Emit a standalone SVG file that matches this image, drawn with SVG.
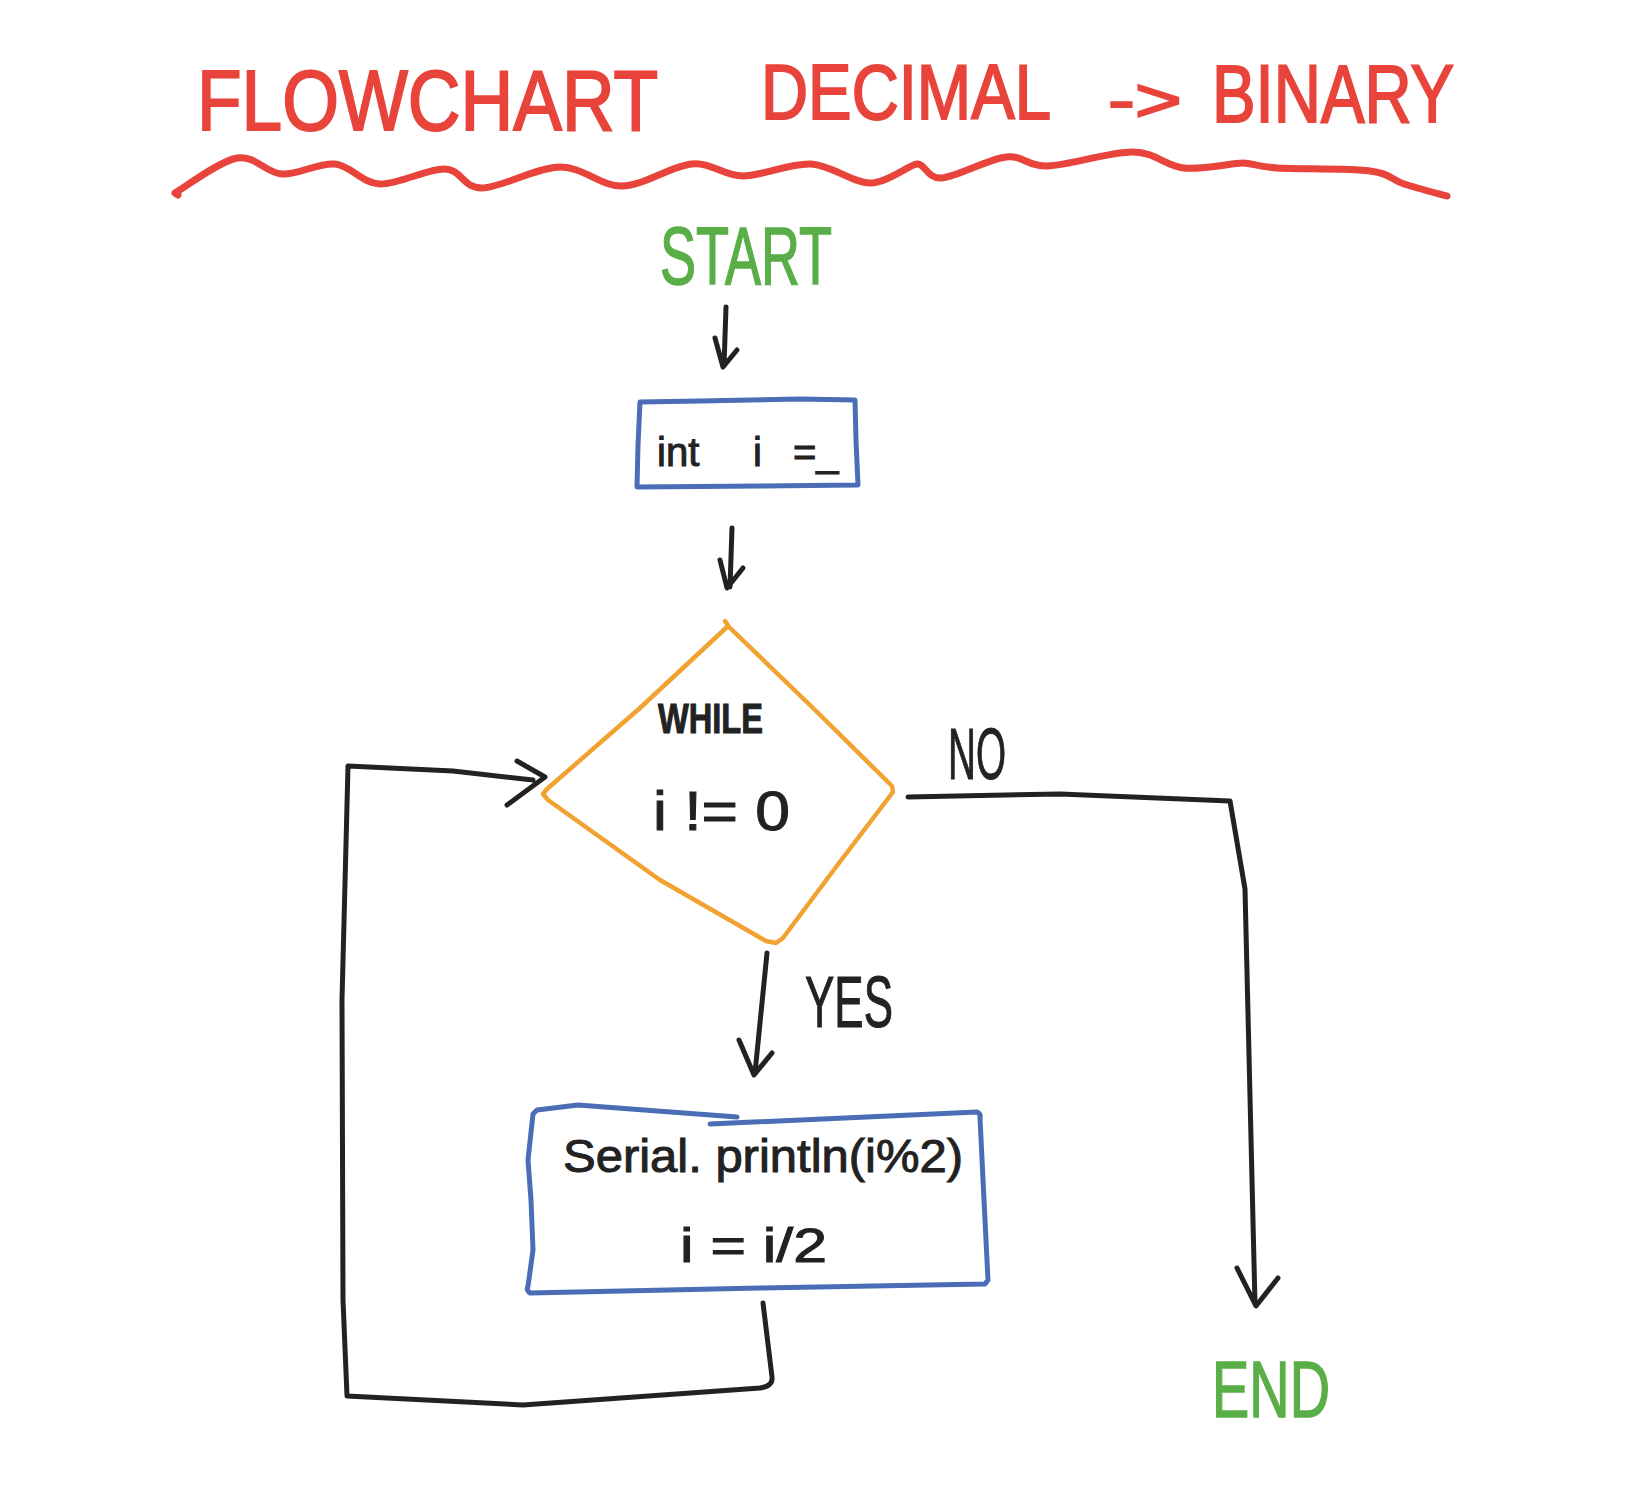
<svg xmlns="http://www.w3.org/2000/svg" width="1652" height="1498" viewBox="0 0 1652 1498">
<style>
  .red { fill: #e8443b; stroke: #e8443b; stroke-width: 2; font-family: "Liberation Sans", Arial, sans-serif; }
  .green { fill: #5aae47; stroke: #5aae47; stroke-width: 1.5; font-family: "Liberation Sans", Arial, sans-serif; }
  .ink { fill: #222222; stroke: #222222; stroke-width: 1; font-family: "Liberation Sans", Arial, sans-serif; }
  .blue { fill: none; stroke: #4a6db5; stroke-width: 5; stroke-linejoin: round; stroke-linecap: round; }
  .orange { fill: none; stroke: #f2a230; stroke-width: 4.5; stroke-linejoin: round; stroke-linecap: round; }
  .line { fill: none; stroke: #222222; stroke-width: 5; stroke-linejoin: round; stroke-linecap: round; }
  .wave { fill: none; stroke: #e8443b; stroke-width: 7; stroke-linejoin: round; stroke-linecap: round; }
</style>
<rect width="1652" height="1498" fill="#ffffff"/>

<g id="title">
  <text class="red" x="197" y="130" font-size="86" textLength="461" lengthAdjust="spacingAndGlyphs">FLOWCHART</text>
  <text class="red" x="761" y="119" font-size="78" textLength="290" lengthAdjust="spacingAndGlyphs">DECIMAL</text>
  <text class="red" x="1108" y="121" font-size="62" textLength="74" lengthAdjust="spacingAndGlyphs">-&gt;</text>
  <text class="red" x="1212" y="122" font-size="82" textLength="242" lengthAdjust="spacingAndGlyphs">BINARY</text>
  <path class="wave" d="M 178 195 L 175 193 C 185.3 187.2, 219.2 161.2, 237 158 C 254.8 154.8, 265.7 173, 282 174 C 298.3 175, 318.7 162.3, 335 164 C 351.3 165.7, 361.7 183.2, 380 184 C 398.3 184.8, 428 168.3, 445 169 C 462 169.7, 462.8 188.3, 482 188 C 501.2 187.7, 536.7 167.3, 560 167 C 583.3 166.7, 600 186.5, 622 186 C 644 185.5, 671.8 165.7, 692 164 C 712.2 162.3, 723.2 176, 743 176 C 762.8 176, 789.8 162.8, 811 164 C 832.2 165.2, 852.3 183, 870 183 C 887.7 183, 909 164.8, 917 164 C 925 163.2, 927.2 179.2, 942 178 C 956.8 176.8, 988.3 159, 1006 157 C 1023.7 155, 1026.8 166.8, 1048 166 C 1069.2 165.2, 1110.3 151.7, 1133 152 C 1155.7 152.3, 1165.7 166.2, 1184 168 C 1202.3 169.8, 1233 163, 1243 163 C 1253 163, 1255.8 166.7, 1277 168 C 1298.2 169.3, 1348.8 168.3, 1370 171 C 1391.2 173.7, 1391.2 179.8, 1404 184 C 1416.8 188.2, 1439.8 194, 1447 196"/>
</g>

<g id="start">
  <text class="green" x="660" y="284" font-size="82" textLength="172" lengthAdjust="spacingAndGlyphs">START</text>
</g>

<g id="init">
  <path class="blue" d="M 640 402 L 700 401 L 800 399 L 855 400 L 856 440 L 858 485 L 760 486 L 637 487 L 638 445 Z"/>
  <text class="ink" y="466" font-size="40"><tspan x="657">int</tspan><tspan x="753">i</tspan><tspan x="793">=_</tspan></text>
</g>

<g id="while">
  <path class="orange" d="M 725 621 L 729 627 L 812 707 L 892 786 L 893 792 L 836 867 L 783 938 L 776 943 L 766 941 L 660 880 L 548 800 L 543 794 L 547 789 L 640 708 L 727 627"/>
  <text class="ink" x="658" y="733" font-size="42" font-weight="bold" textLength="105" lengthAdjust="spacingAndGlyphs">WHILE</text>
  <text class="ink" x="653" y="830" font-size="56" stroke-width="0.5" textLength="137" lengthAdjust="spacingAndGlyphs">i != 0</text>
</g>

<g id="body">
  <path class="blue" d="M 710 1124 L 977 1112 Q 981 1114 980 1118 L 984 1200 L 988 1280 L 985 1284 L 760 1288 L 530 1293 Q 526 1290 528 1286 L 533 1250 L 531 1200 L 528 1160 L 533 1114 L 537 1110 L 578 1105 L 737 1117"/>
  <text class="ink" x="563" y="1172" font-size="46" textLength="400" lengthAdjust="spacingAndGlyphs">Serial. println(i%2)</text>
  <text class="ink" x="680" y="1262" font-size="48" textLength="147" lengthAdjust="spacingAndGlyphs">i = i/2</text>
</g>

<g id="end">
  <text class="green" x="1212" y="1417" font-size="80" textLength="118" lengthAdjust="spacingAndGlyphs">END</text>
</g>

<g id="connectors">
  <path class="line" d="M 726 307 L 724 366 M 715 338 L 723 367 L 737 350"/>
  <path class="line" d="M 732 528 L 730 587 M 720 560 L 727 588 L 743 568"/>
  <path class="line" d="M 908 797 L 1060 794 L 1230 801 L 1245 889 L 1255 1304 M 1237 1268 L 1256 1306 L 1278 1278"/>
  <text class="ink" x="948" y="779" font-size="72" stroke-width="1.5" textLength="58" lengthAdjust="spacingAndGlyphs">NO</text>
  <path class="line" d="M 767 953 L 755 1073 M 739 1040 L 754 1075 L 772 1053"/>
  <text class="ink" x="805" y="1027" font-size="72" stroke-width="1.5" textLength="88" lengthAdjust="spacingAndGlyphs">YES</text>
  <path class="line" d="M 763 1303 L 772 1377 Q 773 1386 760 1388 L 523 1405 L 347 1396 L 343 1300 L 342 1000 L 348 766 L 453 771 L 533 780 M 517 761 L 545 777 L 507 805"/>
</g>
</svg>
